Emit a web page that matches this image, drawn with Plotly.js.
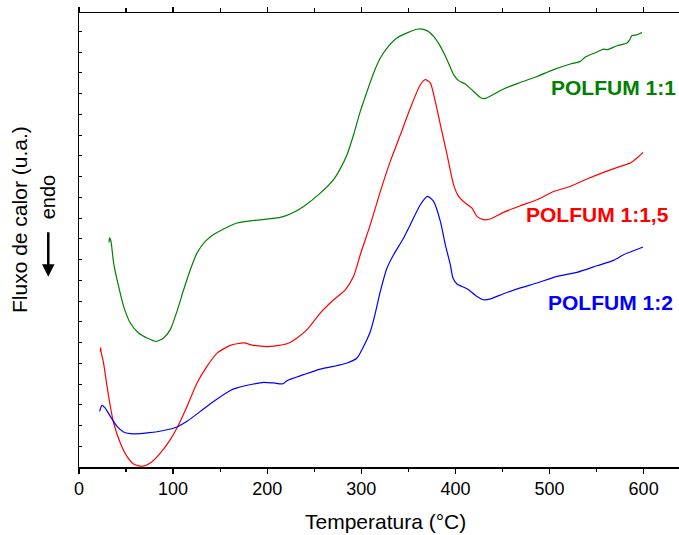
<!DOCTYPE html>
<html>
<head>
<meta charset="utf-8">
<script src="https://cdn.plot.ly/plotly-3.0.1.min.js"></script>
<style>
html,body{margin:0;padding:0;overflow:hidden;background:#fff;}
#chart{width:679px;height:535px;}
</style>
</head>
<body>
<div id="chart"></div>
<script>
// Temperature (°C) and heat flow (arbitrary units)
const tempGreen = [31.9,32.5,34.0,36.8,42.1,47.4,54.5,63.3,72.3,82.1,89.9,97.0,104.1,111.2,118.3,125.4,134.2,143.0,160.8,167.9,185.5,203.3,213.9,224.5,238.7,256.4,270.5,277.7,284.8,291.8,298.9,306.1,313.1,320.2,327.3,337.9,348.6,360.9,369.8,376.8,384.0,391.1,398.1,403.4,410.5,419.3,426.5,430.7,451.2,469.0,486.7,504.4,522.1,532.8,538.0,550.5,557.5,561.1,571.7,582.4,585.1,587.7,593.0,598.3];
const fluxGreen = [10.82,11.04,10.87,9.83,8.70,7.74,6.94,6.46,6.22,6.05,6.22,6.62,7.50,8.54,9.51,10.31,10.87,11.20,11.63,11.76,11.88,11.97,12.03,12.19,12.56,13.20,13.85,14.38,15.05,16.01,17.14,18.10,18.99,19.71,20.19,20.67,20.92,21.11,21.03,20.75,20.27,19.63,18.91,18.62,18.46,18.10,17.81,17.75,18.22,18.53,18.82,19.15,19.42,19.55,19.76,20.00,20.14,20.11,20.30,20.43,20.59,20.79,20.83,20.94];

const tempRed = [22.6,23.0,23.4,26.1,29.8,33.3,36.8,43.9,51.0,58.0,67.0,75.8,86.4,97.0,104.1,114.8,125.4,136.0,146.7,160.8,174.9,185.5,203.3,221.0,231.7,242.3,256.4,270.6,283.0,291.8,298.9,309.6,320.2,330.8,341.5,352.1,362.7,368.0,373.3,378.6,384.0,391.1,398.1,403.4,410.5,417.6,422.9,430.0,437.1,451.2,469.0,486.7,504.4,522.1,539.8,557.5,575.2,585.8,593.0,599.4];
const fluxRed = [5.57,5.76,5.56,5.01,3.88,2.92,2.12,1.16,0.51,0.14,0.03,0.19,0.67,1.32,1.88,2.92,4.05,4.85,5.49,5.86,5.98,5.86,5.81,5.94,6.22,6.62,7.42,8.06,8.54,9.19,10.23,11.68,13.28,14.73,16.01,17.30,18.42,18.67,18.51,17.62,16.50,15.05,13.60,13.04,12.72,12.48,12.08,11.92,11.95,12.27,12.59,12.88,13.28,13.52,13.88,14.20,14.49,14.65,14.89,15.16];

const tempBlue = [21.9,24.4,27.9,33.3,40.4,47.4,58.0,72.3,89.9,104.1,114.8,128.9,143.0,160.8,167.9,185.5,196.2,206.8,216.8,221.0,238.7,256.4,270.6,284.8,295.4,302.4,309.6,314.9,320.2,327.3,334.3,345.0,352.1,362.7,370.5,376.8,384.0,389.3,394.6,397.4,401.7,412.3,422.9,430.0,437.1,451.2,469.0,486.7,508.0,529.2,550.5,568.1,578.7,589.4,599.4];
const fluxBlue = [2.68,2.97,2.84,2.44,1.96,1.69,1.60,1.64,1.76,1.93,2.20,2.68,3.16,3.69,3.81,4.00,4.08,4.05,4.01,4.16,4.45,4.72,4.85,5.01,5.25,5.81,6.53,7.42,8.46,9.59,10.23,11.04,11.68,12.64,13.04,12.80,11.84,10.71,9.75,9.11,8.82,8.59,8.22,8.06,8.10,8.35,8.63,8.87,9.19,9.38,9.70,9.96,10.23,10.42,10.60];

const seriesNames = ["POLFUM 1:1", "POLFUM 1:1,5", "POLFUM 1:2"];
const seriesColors = ["rgb(0,128,0)", "rgb(255,0,0)", "rgb(0,0,255)"];
const labelTemp = [499.6, 473.2, 496.7];
const labelFlux = [18.30, 12.16, 7.94];
const xTickVals = [0,100,200,300,400,500,600];

const FONT = '"Liberation Sans", Arial, sans-serif';
const xs = [tempGreen, tempRed, tempBlue];
const ys = [fluxGreen, fluxRed, fluxBlue];

const traces = xs.map((x, i) => ({
  x: x, y: ys[i], type: 'scatter', mode: 'lines', name: seriesNames[i],
  line: {color: seriesColors[i], width: 1.2, shape: 'spline', smoothing: 0.6},
  hoverinfo: 'skip'
}));

const annotations = seriesNames.map((n, i) => ({
  text: '<b>' + n + '</b>', x: labelTemp[i], y: labelFlux[i], xref: 'x', yref: 'y',
  xanchor: 'left', yanchor: 'middle', showarrow: false,
  font: {family: FONT, size: 21, color: seriesColors[i]}
}));

annotations.push({
  text: 'Temperatura (°C)', xref: 'paper', yref: 'paper', x: 0.51, y: -0.121,
  xanchor: 'center', yanchor: 'middle', showarrow: false,
  font: {family: FONT, size: 21, color: '#000'}
});
annotations.push({
  text: 'Fluxo de calor (u.a.)', xref: 'paper', yref: 'paper', x: -0.1, y: 0.544,
  xanchor: 'center', yanchor: 'middle', showarrow: false, textangle: -90,
  font: {family: FONT, size: 21, color: '#000'}
});
annotations.push({
  text: 'endo', xref: 'paper', yref: 'paper', x: -0.0525, y: 0.595,
  xanchor: 'center', yanchor: 'middle', showarrow: false, textangle: -90,
  font: {family: FONT, size: 20, color: '#000'}
});
annotations.push({
  text: '', xref: 'paper', yref: 'paper', x: -0.0512, y: 0.419,
  ax: 0, ay: -46, showarrow: true, arrowhead: 2, arrowsize: 1, arrowwidth: 2.5,
  arrowcolor: '#000'
});

const layout = {
  width: 679, height: 535,
  margin: {l: 79, r: 0, t: 13, b: 68},
  paper_bgcolor: '#fff', plot_bgcolor: '#fff',
  showlegend: false,
  font: {family: FONT, color: '#000'},
  xaxis: {
    range: [0, 637.6], tickvals: xTickVals, ticks: 'outside', ticklen: 5, tickwidth: 1.3,
    tickcolor: '#000', showline: true, linecolor: '#000', linewidth: 1.5, mirror: 'ticks',
    showgrid: false, zeroline: false, tickfont: {family: FONT, size: 18, color: '#000'},
    minor: {dtick: 50, tick0: 0, ticks: 'outside', ticklen: 3.5, tickwidth: 1.3, tickcolor: '#000', showgrid: false}
  },
  yaxis: {
    range: [0, 21.88], dtick: 1, tick0: 0, ticks: 'inside', ticklen: 3, tickwidth: 1,
    tickcolor: '#000', showticklabels: false, showline: true, linecolor: '#000', linewidth: 1.5,
    mirror: false, showgrid: false, zeroline: false
  },
  annotations: annotations
};

Plotly.newPlot('chart', traces, layout, {displayModeBar: false, staticPlot: true});
</script>
</body>
</html>
